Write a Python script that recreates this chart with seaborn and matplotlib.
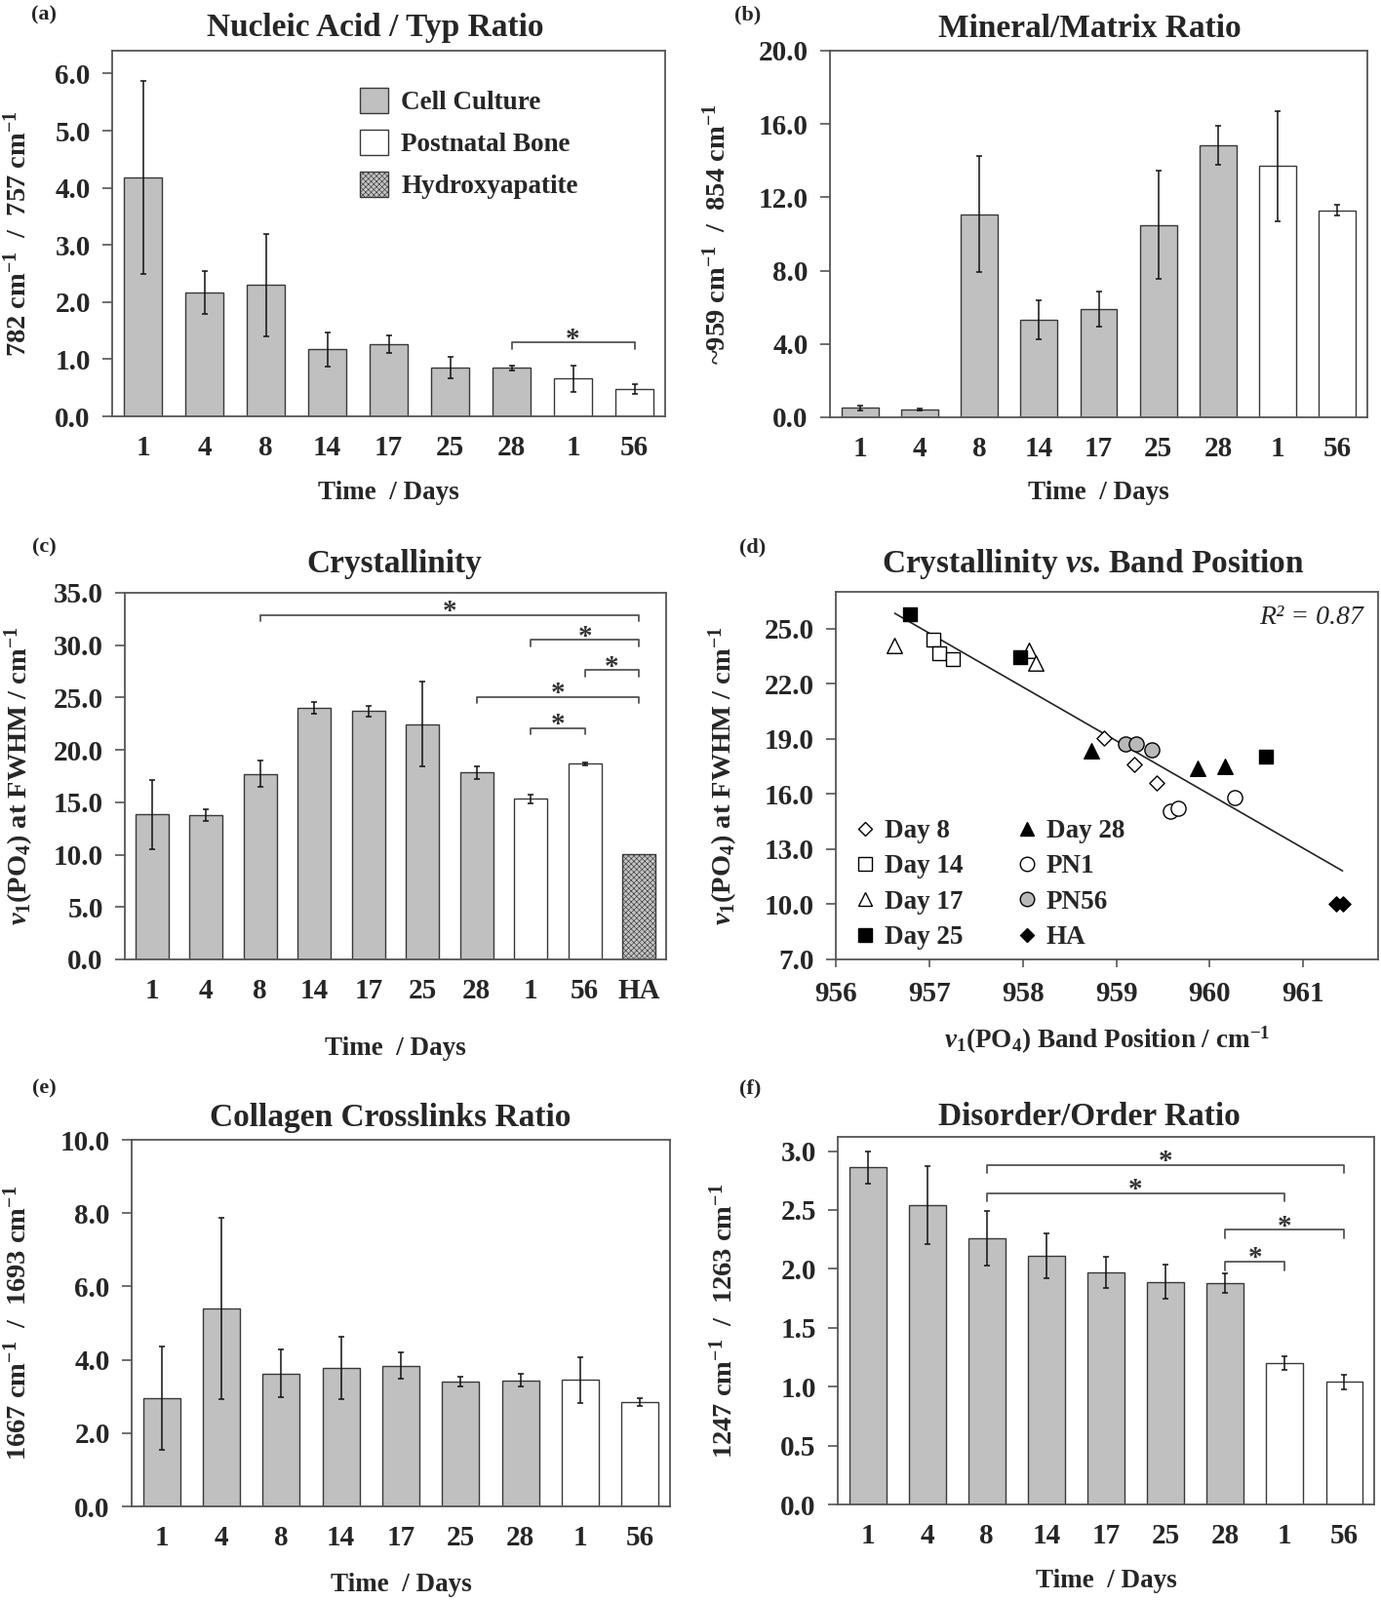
import numpy as np
import pandas as pd
import matplotlib
matplotlib.use("Agg")
import matplotlib.pyplot as plt
from matplotlib.patches import Patch
from matplotlib.lines import Line2D
import seaborn as sns

sns.set_style("white")
plt.rcParams["font.family"] = ["Liberation Serif", "DejaVu Serif"]
plt.rcParams["font.weight"] = "bold"
plt.rcParams["axes.labelweight"] = "bold"
plt.rcParams["axes.titleweight"] = "bold"
plt.rcParams["mathtext.fontset"] = "custom"
plt.rcParams["mathtext.rm"] = "Liberation Serif:bold"
plt.rcParams["mathtext.it"] = "Liberation Serif:italic:bold"
plt.rcParams["mathtext.bf"] = "Liberation Serif:bold"
plt.rcParams["hatch.color"] = "#8c8c8c"
plt.rcParams["hatch.linewidth"] = 0.45

# ---------------- data ----------------
day_labels = ["1", "4", "8", "14", "17", "25", "28", "1", "56"]
day_groups = ["Cell Culture"] * 7 + ["Postnatal Bone"] * 2
cryst_labels = day_labels + ["HA"]
cryst_groups = day_groups + ["Hydroxyapatite"]

nucleic_mean = [4.18, 2.17, 2.30, 1.17, 1.26, 0.85, 0.85, 0.66, 0.48]
nucleic_err = [1.69, 0.37, 0.90, 0.30, 0.15, 0.19, 0.04, 0.23, 0.08]
nucleic_brackets = [(6, 8, 1.29)]

mineral_mean = [0.51, 0.42, 11.08, 5.30, 5.89, 10.50, 14.83, 13.71, 11.30]
mineral_err = [0.15, 0.05, 3.15, 1.07, 0.96, 2.97, 1.05, 3.00, 0.28]

cryst_mean = [13.85, 13.78, 17.73, 24.05, 23.71, 22.46, 17.86, 15.34, 18.67, 10.05]
cryst_err = [3.30, 0.55, 1.25, 0.56, 0.50, 4.03, 0.60, 0.43, 0.10, None]
cryst_brackets = [(2, 9, 32.9), (7, 9, 30.5), (8, 9, 27.6), (6, 9, 25.05), (7, 8, 22.1)]

crosslink_mean = [2.96, 5.40, 3.63, 3.77, 3.84, 3.41, 3.44, 3.45, 2.84]
crosslink_err = [1.41, 2.48, 0.65, 0.85, 0.35, 0.13, 0.17, 0.62, 0.10]

disorder_mean = [2.86, 2.54, 2.26, 2.11, 1.97, 1.89, 1.88, 1.20, 1.04]
disorder_err = [0.135, 0.33, 0.23, 0.19, 0.13, 0.145, 0.085, 0.055, 0.06]
disorder_brackets = [(2, 8, 2.88), (2, 7, 2.64), (6, 8, 2.33), (6, 7, 2.06)]

scatter_groups = ["Day 8", "Day 14", "Day 17", "Day 25", "Day 28", "PN1", "PN56", "HA"]
band_pos = {
    "Day 8": [958.87, 959.19, 959.43],
    "Day 14": [957.04, 957.11, 957.25],
    "Day 17": [956.63, 958.07, 958.14],
    "Day 25": [956.79, 957.97, 960.60],
    "Day 28": [958.73, 959.87, 960.16],
    "PN1": [959.58, 959.66, 960.27],
    "PN56": [959.10, 959.21, 959.38],
    "HA": [961.35, 961.42],
}
fwhm = {
    "Day 8": [19.05, 17.61, 16.58],
    "Day 14": [24.38, 23.64, 23.34],
    "Day 17": [24.08, 23.82, 23.11],
    "Day 25": [25.79, 23.46, 18.05],
    "Day 28": [18.35, 17.38, 17.50],
    "PN1": [15.08, 15.21, 15.79],
    "PN56": [18.73, 18.73, 18.43],
    "HA": [10.0, 10.0],
}
r2_text = "R\u00b2 = 0.87"

# ---------------- styles ----------------
PALETTE = {"Cell Culture": "#c0c0c0", "Postnatal Bone": "#ffffff", "Hydroxyapatite": "#c4c4c4"}
HATCH = "xxxxxx"
EDGE = "#383838"
SPINE = "#555555"
scatter_style = {
    "Day 8": dict(marker="D", color="white", s=60),
    "Day 14": dict(marker="s", color="white", s=115),
    "Day 17": dict(marker="^", color="white", s=125),
    "Day 25": dict(marker="s", color="black", s=115),
    "Day 28": dict(marker="^", color="black", s=125),
    "PN1": dict(marker="o", color="white", s=120),
    "PN56": dict(marker="o", color="#b8b8b8", s=120),
    "HA": dict(marker="D", color="black", s=60),
}

TICK_FS = 21
XLABEL_FS = 19.5
YLABEL_FS = 20.5
TITLE_FS = 24
LEG_FS = 19.5
STAR_FS = 21

FW, FH = 1416.0, 1641.0
fig = plt.figure(figsize=(FW / 100, FH / 100), dpi=100)


class Frame:
    def __init__(self, l, r, t, b):
        self.l, self.r, self.t, self.b = l, r, t, b
        self.ax = fig.add_axes([l / FW, 1 - b / FH, (r - l) / FW, (b - t) / FH])

    def fx(self, px):
        return (px - self.l) / (self.r - self.l)

    def fy(self, py):
        return (self.b - py) / (self.b - self.t)


def style_frame(ax):
    for sp in ax.spines.values():
        sp.set_visible(True)
        sp.set_color(SPINE)
        sp.set_linewidth(1.3)
    ax.tick_params(axis="y", direction="out", length=7, width=1.2, color=SPINE,
                   labelsize=TICK_FS, pad=9, left=True)
    ax.grid(False)


def place_labels(fr, title, title_px, title_py, xlabel, xlabel_py, ylabel, ylabel_px):
    ax = fr.ax
    ax.set_title(title, fontsize=TITLE_FS, y=fr.fy(title_py), pad=0, va="center")
    ax.title.set_x(fr.fx(title_px))
    ax.set_xlabel(xlabel, fontsize=XLABEL_FS, va="center")
    ax.xaxis.set_label_coords(0.5, fr.fy(xlabel_py))
    ax.set_ylabel(ylabel, fontsize=YLABEL_FS, va="center")
    ax.yaxis.set_label_coords(fr.fx(ylabel_px), 0.5)


def bar_panel(fr, labels, groups, means, errs, ylim, yticks, brackets=None, drop=None):
    ax = fr.ax
    keys = [f"{i}" for i in range(len(labels))]
    df = pd.DataFrame({"key": keys, "value": means, "group": groups})
    sns.barplot(data=df, x="key", y="value", hue="group", palette=PALETTE,
                dodge=False, width=0.62, edgecolor=EDGE, linewidth=1.0,
                legend=False, ax=ax)
    for p in ax.patches:
        cx = p.get_x() + p.get_width() / 2
        idx = int(round(cx))
        if 0 <= idx < len(groups) and groups[idx] == "Hydroxyapatite":
            p.set_hatch(HATCH)
    xs = [i for i, e in enumerate(errs) if e is not None]
    ax.errorbar(xs, [means[i] for i in xs], yerr=[errs[i] for i in xs], fmt="none",
                ecolor="#111111", elinewidth=1.1, capsize=2.5, capthick=1.1, zorder=5)
    if brackets:
        for i, j, y in brackets:
            ax.plot([i, i, j, j], [y - drop, y, y, y - drop], color=SPINE, lw=1.3)
            ax.annotate("*", xy=((i + j) / 2, y), xytext=(0, -3),
                        textcoords="offset points", ha="center", va="baseline",
                        fontsize=STAR_FS, color="#333333")
    ax.set_xlim(-0.5, len(labels) - 0.5)
    ax.set_ylim(*ylim)
    ax.set_yticks(yticks)
    ax.set_yticklabels([f"{v:.1f}" for v in yticks])
    ax.set_xticks(range(len(labels)))
    ax.set_xticklabels(labels, fontsize=TICK_FS)
    style_frame(ax)
    ax.tick_params(axis="x", length=0, pad=14)


TIME_LABEL = "Time  / Days"

# (a)
fa = Frame(115, 682, 52, 427)
bar_panel(fa, day_labels, day_groups, nucleic_mean, nucleic_err, (0, 6.4),
          np.arange(0, 6.01, 1.0), brackets=nucleic_brackets, drop=0.12)
place_labels(fa, "Nucleic Acid / Typ Ratio", 385, 29, TIME_LABEL, 505,
             r"782 cm$^{-1}$  /  757 cm$^{-1}$", 18)
handles = [Patch(facecolor=PALETTE[g], edgecolor=EDGE, linewidth=1.0,
                 hatch=(HATCH if g == "Hydroxyapatite" else None))
           for g in ["Cell Culture", "Postnatal Bone", "Hydroxyapatite"]]
fa.ax.legend(handles, ["Cell Culture", "Postnatal Bone", "Hydroxyapatite"],
             loc="upper left", bbox_to_anchor=(fa.fx(369), fa.fy(90)), frameon=False,
             fontsize=LEG_FS, handlelength=1.08, handleheight=1.08, handletextpad=0.48,
             labelspacing=0.55, borderpad=0, borderaxespad=0)

# (b)
fb = Frame(851, 1402, 52, 428)
bar_panel(fb, day_labels, day_groups, mineral_mean, mineral_err, (0, 20),
          np.arange(0, 20.01, 4.0))
place_labels(fb, "Mineral/Matrix Ratio", 1117, 29, TIME_LABEL, 505,
             r"~959 cm$^{-1}$  /  854 cm$^{-1}$", 735)

# (c)
fc = Frame(128, 683, 608, 984)
bar_panel(fc, cryst_labels, cryst_groups, cryst_mean, cryst_err, (0, 35),
          np.arange(0, 35.01, 5.0), brackets=cryst_brackets, drop=0.6)
place_labels(fc, "Crystallinity", 404, 579, TIME_LABEL, 1076,
             r"$v_1$(PO$_4$) at FWHM / cm$^{-1}$", 20)

# (d)
fd = Frame(857, 1413, 607, 984)
ax_d = fd.ax
all_x, all_y = [], []
for g in scatter_groups:
    st = scatter_style[g]
    sns.scatterplot(x=band_pos[g], y=fwhm[g], marker=st["marker"], color=st["color"],
                    edgecolor="black", linewidth=1.0, s=st["s"], ax=ax_d, zorder=4)
    all_x += band_pos[g]
    all_y += fwhm[g]
sns.regplot(x=np.array(all_x), y=np.array(all_y), scatter=False, ci=None, truncate=True,
            line_kws=dict(color="#222222", lw=1.2), ax=ax_d)
ax_d.set_xlim(956, 961.8)
ax_d.set_ylim(7, 27)
ax_d.set_xticks(np.arange(956, 961.1, 1))
ax_d.set_xticklabels([f"{v:.0f}" for v in np.arange(956, 961.1, 1)], fontsize=TICK_FS)
ax_d.set_yticks(np.arange(7, 25.1, 3))
ax_d.set_yticklabels([f"{v:.1f}" for v in np.arange(7, 25.1, 3)])
style_frame(ax_d)
ax_d.tick_params(axis="x", direction="out", length=6, width=1.2, color=SPINE,
                 bottom=True, pad=10)
place_labels(fd, r"Crystallinity $vs$. Band Position", 1121, 579,
             r"$v_1$(PO$_4$) Band Position / cm$^{-1}$", 1067,
             r"$v_1$(PO$_4$) at FWHM / cm$^{-1}$", 742)
ax_d.text(fd.fx(1398), fd.fy(633), r2_text, transform=ax_d.transAxes, ha="right",
          va="center", fontsize=20, fontstyle="italic", fontweight="normal")
leg_handles = [Line2D([], [], linestyle="none", marker=scatter_style[g]["marker"],
                      markerfacecolor=scatter_style[g]["color"], markeredgecolor="black",
                      markersize=(7.5 if scatter_style[g]["marker"] == "D" else 10.5))
               for g in scatter_groups]
ax_d.legend(leg_handles, scatter_groups, ncol=2, loc="upper left",
            bbox_to_anchor=(fd.fx(876), fd.fy(840)), frameon=False, fontsize=LEG_FS,
            handlelength=0.8, handletextpad=0.35, columnspacing=2.0, labelspacing=0.42,
            borderpad=0, borderaxespad=0)

# (e)
fe = Frame(135, 687, 1169, 1545)
bar_panel(fe, day_labels, day_groups, crosslink_mean, crosslink_err, (0, 10),
          np.arange(0, 10.01, 2.0))
place_labels(fe, "Collagen Crosslinks Ratio", 400, 1147, TIME_LABEL, 1625,
             r"1667 cm$^{-1}$  /  1693 cm$^{-1}$", 18)

# (f)
ff = Frame(859, 1409, 1166, 1543)
bar_panel(ff, day_labels, day_groups, disorder_mean, disorder_err, (0, 3.12),
          np.arange(0, 3.01, 0.5), brackets=disorder_brackets, drop=0.07)
place_labels(ff, "Disorder/Order Ratio", 1117, 1145, TIME_LABEL, 1622,
             r"1247 cm$^{-1}$  /  1263 cm$^{-1}$", 742)

# panel letters
for lab, (px, py) in zip(["(a)", "(b)", "(c)", "(d)", "(e)", "(f)"],
                         [(45, 15), (767, 15), (45, 561), (772, 561), (45, 1116), (769, 1116)]):
    fig.text(px / FW, 1 - py / FH, lab, ha="center", va="center", fontsize=16,
             fontweight="bold")

fig.savefig("out.png", dpi=100)
